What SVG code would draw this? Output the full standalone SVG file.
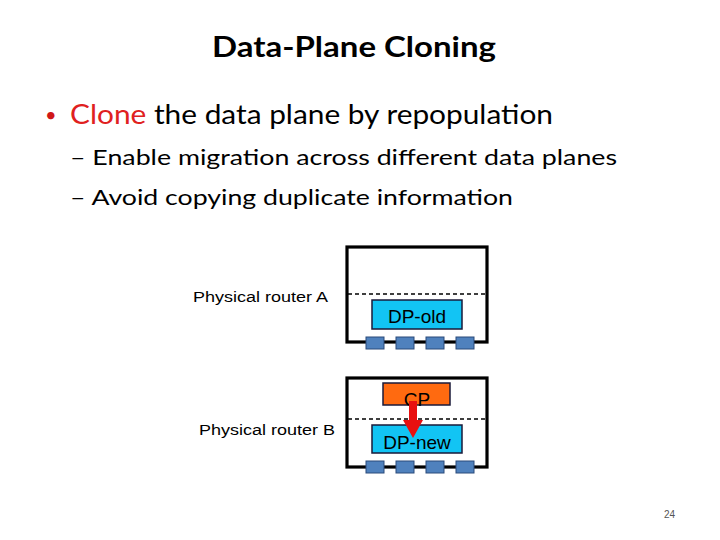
<svg xmlns="http://www.w3.org/2000/svg" width="720" height="540" viewBox="0 0 720 540">
<style>
.t{font-family:Lato,"Open Sans","Liberation Sans",sans-serif;fill:#000}
.a{font-family:"Liberation Sans",Arial,sans-serif;fill:#000}
.box{fill:#fff;stroke:#000;stroke-width:3.2}
.dash{stroke:#000;stroke-width:1.5;stroke-dasharray:4 3}
.dp{fill:#12c4f4;stroke:#1a1a3a;stroke-width:1.5}
.cp{fill:#ff6a10;stroke:#1a1a3a;stroke-width:1.5}
.port{fill:#4f81bd;stroke:#2a4a7a;stroke-width:1}
</style>
<rect width="720" height="540" fill="#fff"/>
<text class="t" x="354" y="57" font-size="28" font-weight="bold" text-anchor="middle" textLength="284" lengthAdjust="spacingAndGlyphs">Data-Plane Cloning</text>
<text class="t" x="45" y="122" font-size="20" style="fill:#d01818">•</text>
<text class="t" x="70" y="124" font-size="26" textLength="483" lengthAdjust="spacingAndGlyphs"><tspan style="fill:#e02020">Clone</tspan> the data plane by repopulation</text>
<text class="t" x="70" y="165" font-size="22" textLength="547" lengthAdjust="spacingAndGlyphs">– Enable migration across different data planes</text>
<text class="t" x="70" y="205" font-size="22" textLength="443" lengthAdjust="spacingAndGlyphs">– Avoid copying duplicate information</text>
<g id="routerA">
<text class="a" x="193" y="302" font-size="15.5" textLength="135" lengthAdjust="spacingAndGlyphs">Physical router A</text>
<rect class="box" x="347" y="247" width="140" height="95"/>
<line class="dash" x1="348" y1="294" x2="486" y2="294"/>
<rect class="dp" x="372" y="300" width="90" height="29"/>
<text class="a" x="417" y="323" font-size="19" text-anchor="middle">DP-old</text>
<rect class="port" x="366" y="337" width="18" height="12"/>
<rect class="port" x="396" y="337" width="18" height="12"/>
<rect class="port" x="426" y="337" width="18" height="12"/>
<rect class="port" x="456" y="337" width="18" height="12"/>
</g>
<g id="routerB">
<text class="a" x="199" y="435" font-size="15.5" textLength="136" lengthAdjust="spacingAndGlyphs">Physical router B</text>
<rect class="box" x="347" y="378" width="140" height="89"/>
<line class="dash" x1="348" y1="419" x2="486" y2="419"/>
<rect class="cp" x="383" y="383" width="67" height="22"/>
<text class="a" x="417" y="406" font-size="19" text-anchor="middle">CP</text>
<rect class="dp" x="372" y="425" width="90" height="28"/>
<text class="a" x="417" y="449" font-size="19" text-anchor="middle">DP-new</text>
<rect class="port" x="366" y="461" width="18" height="12"/>
<rect class="port" x="396" y="461" width="18" height="12"/>
<rect class="port" x="426" y="461" width="18" height="12"/>
<rect class="port" x="456" y="461" width="18" height="12"/>
</g>
<g id="connectors">
<path d="M409,401 L417,401 L417,420 L423,420 L413,438 L403,420 L409,420 Z" fill="#e81010"/>
</g>
<text class="a" x="664" y="518" font-size="10" style="fill:#555">24</text>
</svg>
